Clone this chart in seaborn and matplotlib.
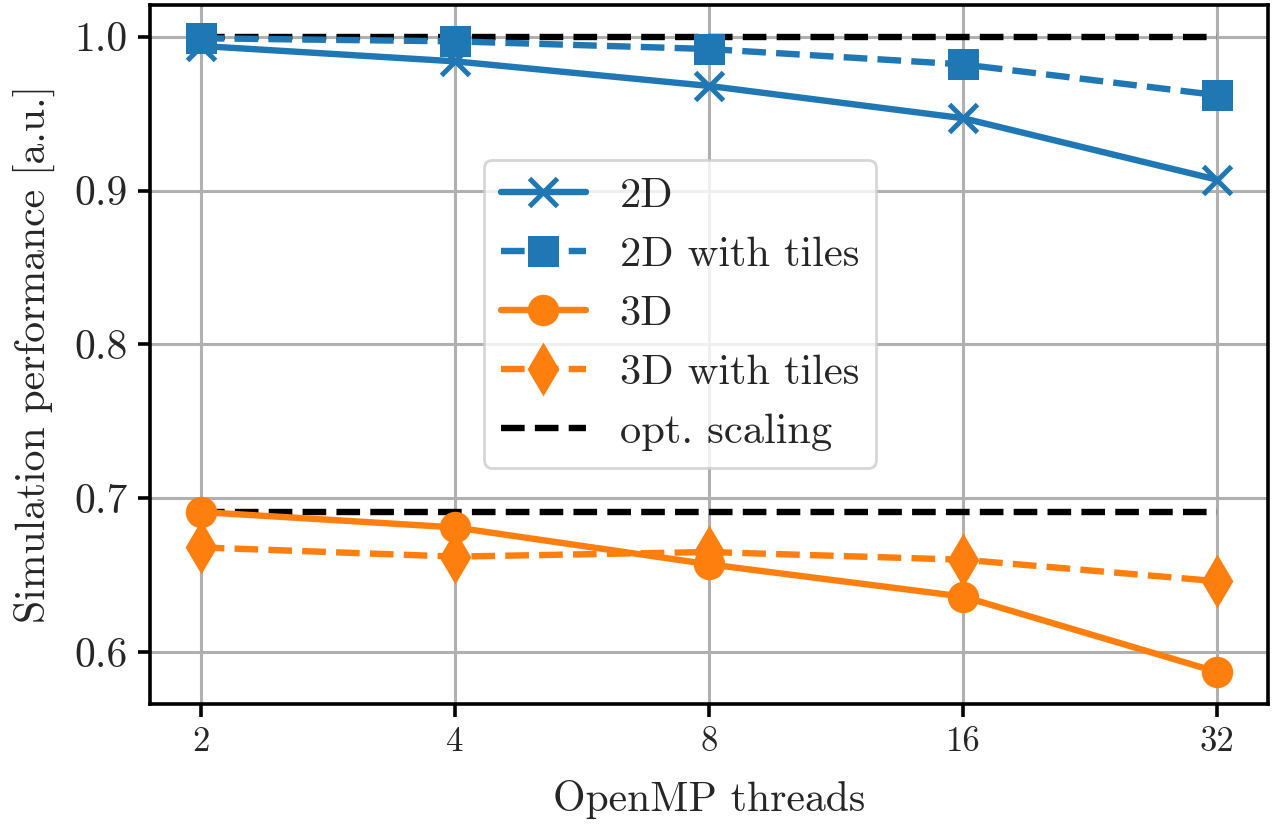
import matplotlib
matplotlib.use("Agg")
import matplotlib.pyplot as plt
import matplotlib.ticker as mticker
import seaborn as sns
import pandas as pd

# Data
threads = [2, 4, 8, 16, 32]
perf_2d = [0.994, 0.984, 0.968, 0.947, 0.907]
perf_2d_tiles = [0.999, 0.997, 0.992, 0.982, 0.962]
perf_3d = [0.691, 0.681, 0.657, 0.636, 0.587]
perf_3d_tiles = [0.668, 0.662, 0.665, 0.660, 0.646]
opt_2d = [1.0, 1.0, 1.0, 1.0, 1.0]
opt_3d = [0.691, 0.691, 0.691, 0.691, 0.691]
tick_labels = ["2", "4", "8", "16", "32"]

sns.set_style("ticks")
plt.rcParams["font.family"] = "serif"
plt.rcParams["font.serif"] = ["cmr10", "DejaVu Serif"]
plt.rcParams["mathtext.fontset"] = "cm"
plt.rcParams["axes.formatter.use_mathtext"] = True
plt.rcParams["axes.unicode_minus"] = False

blue = "#1f77b4"
orange = "#ff7f0e"

fig = plt.figure(figsize=(6.405, 4.13), dpi=200)
ax = fig.add_axes([0.117, 0.148, 0.873, 0.846])

series = [
    ("2D", perf_2d, blue, "-", "x", 10),
    ("2D with tiles", perf_2d_tiles, blue, "--", "s", 9.5),
    ("3D", perf_3d, orange, "-", "o", 9.5),
    ("3D with tiles", perf_3d_tiles, orange, "--", "d", 11),
]
for label, vals, col, ls, mk, ms in series:
    df = pd.DataFrame({"threads": threads, "perf": vals})
    sns.lineplot(data=df, x="threads", y="perf", ax=ax, color=col, linestyle=ls,
                 marker=mk, markersize=ms, markeredgewidth=1.8, markeredgecolor=col,
                 linewidth=2.3, label=label, zorder=3)

for i, vals in enumerate([opt_2d, opt_3d]):
    df = pd.DataFrame({"threads": threads, "perf": vals})
    sns.lineplot(data=df, x="threads", y="perf", ax=ax, color="black", linestyle="--",
                 linewidth=2.3, label="opt. scaling" if i == 0 else None, zorder=2.5)

ax.set_xscale("log", base=2)
ax.set_xticks(threads)
ax.set_xticklabels(tick_labels, fontsize=12.5)
ax.xaxis.set_minor_locator(mticker.NullLocator())
ax.set_yticks([0.6, 0.7, 0.8, 0.9, 1.0])
ax.yaxis.set_major_formatter(mticker.FormatStrFormatter("%.1f"))
ax.tick_params(axis="y", labelsize=15)
ax.tick_params(axis="both", width=1.3, length=4.5, color="black")
ax.grid(True, color="#b0b0b0", linewidth=1.1)
for sp in ax.spines.values():
    sp.set_linewidth(1.3)
    sp.set_color("black")

ax.set_xlabel("OpenMP threads", fontsize=15, labelpad=8)
ax.set_ylabel("Simulation performance [a.u.]", fontsize=15, labelpad=7)

ax.legend(loc="center", bbox_to_anchor=(0.474, 0.558), fontsize=15.3, frameon=True,
          fancybox=True, framealpha=0.8, edgecolor="0.8")

fig.savefig("out.png", dpi=200)
